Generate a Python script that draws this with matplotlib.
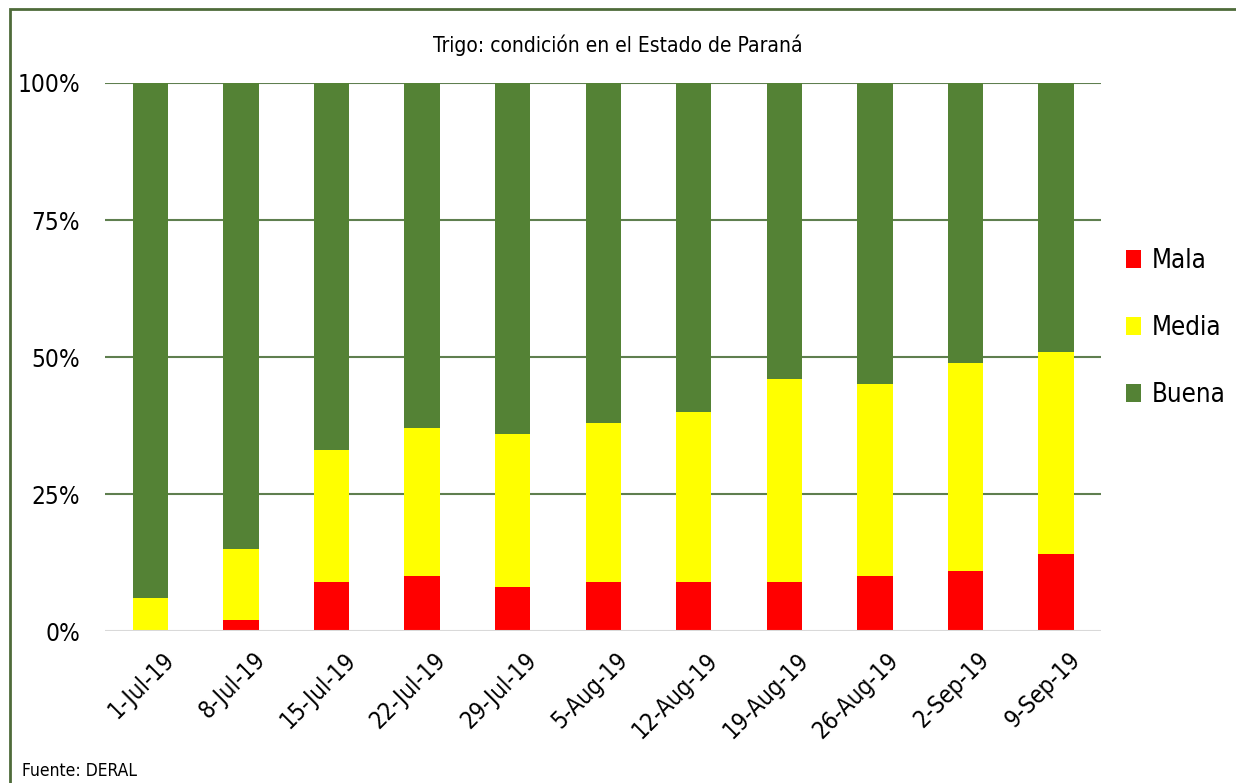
import numpy as np
import matplotlib.pyplot as plt
import matplotlib.transforms as mtransforms
from matplotlib.ticker import PercentFormatter
from matplotlib.patches import Rectangle

fechas = ["1-Jul-19", "8-Jul-19", "15-Jul-19", "22-Jul-19", "29-Jul-19", "5-Aug-19",
          "12-Aug-19", "19-Aug-19", "26-Aug-19", "2-Sep-19", "9-Sep-19"]
mala = np.array([0, 2, 9, 10, 8, 9, 9, 9, 10, 11, 14])
media = np.array([6, 13, 24, 27, 28, 29, 31, 37, 35, 38, 37])
buena = 100 - mala - media

plt.rcParams['font.family'] = ['DejaVu Sans']
plt.rcParams['font.stretch'] = 'condensed'

fig = plt.figure(figsize=(12.36, 7.83), dpi=100)
ax = fig.add_axes([0.085, 0.194, 0.806, 0.70])

x = np.arange(len(fechas))
w = 0.39
ax.bar(x, mala, w, color="#FF0000", label="Mala", zorder=3)
ax.bar(x, media, w, bottom=mala, color="#FFFF00", label="Media", zorder=3)
ax.bar(x, buena, w, bottom=mala + media, color="#548235", label="Buena", zorder=3)

ax.set_xlim(-0.5, len(fechas) - 0.5)
ax.set_ylim(0, 100)
ax.set_yticks([0, 25, 50, 75, 100])
ax.yaxis.set_major_formatter(PercentFormatter(decimals=0))
for yv in [25, 50, 75, 100]:
    ax.axhline(yv, color="#5f7f4f", lw=1.5, zorder=1)
ax.axhline(0, color="#d9d9d9", lw=1.5, zorder=4)
for s in ax.spines.values():
    s.set_visible(False)
ax.tick_params(axis="both", length=0)
ax.tick_params(axis="y", labelsize=17.5, pad=18)
ax.set_xticks(x)
ax.set_xticklabels(fechas, rotation=45, ha="right", rotation_mode="anchor", fontsize=17)
ax.tick_params(axis="x", pad=12)
# shift the date labels a little to the right, like the original
offset = mtransforms.ScaledTranslation(0.12, 0, fig.dpi_scale_trans)
for lbl in ax.get_xticklabels():
    lbl.set_transform(lbl.get_transform() + offset)

ax.legend(loc="center left", bbox_to_anchor=(1.002, 0.553), frameon=False, fontsize=18.5,
          handlelength=0.55, handleheight=0.7, handletextpad=0.45, labelspacing=1.6)

fig.text(0.5, 0.942, "Trigo: condición en el Estado de Paraná", ha="center", va="center", fontsize=15)
fig.text(0.018, 0.015, "Fuente: DERAL", ha="left", va="center", fontsize=12.5)

fig.patches.append(Rectangle((0.008, -0.05), 1.2, 1.039, transform=fig.transFigure,
                             fill=False, edgecolor="#4e6b3a", lw=2))

fig.savefig("out.png", dpi=100)
